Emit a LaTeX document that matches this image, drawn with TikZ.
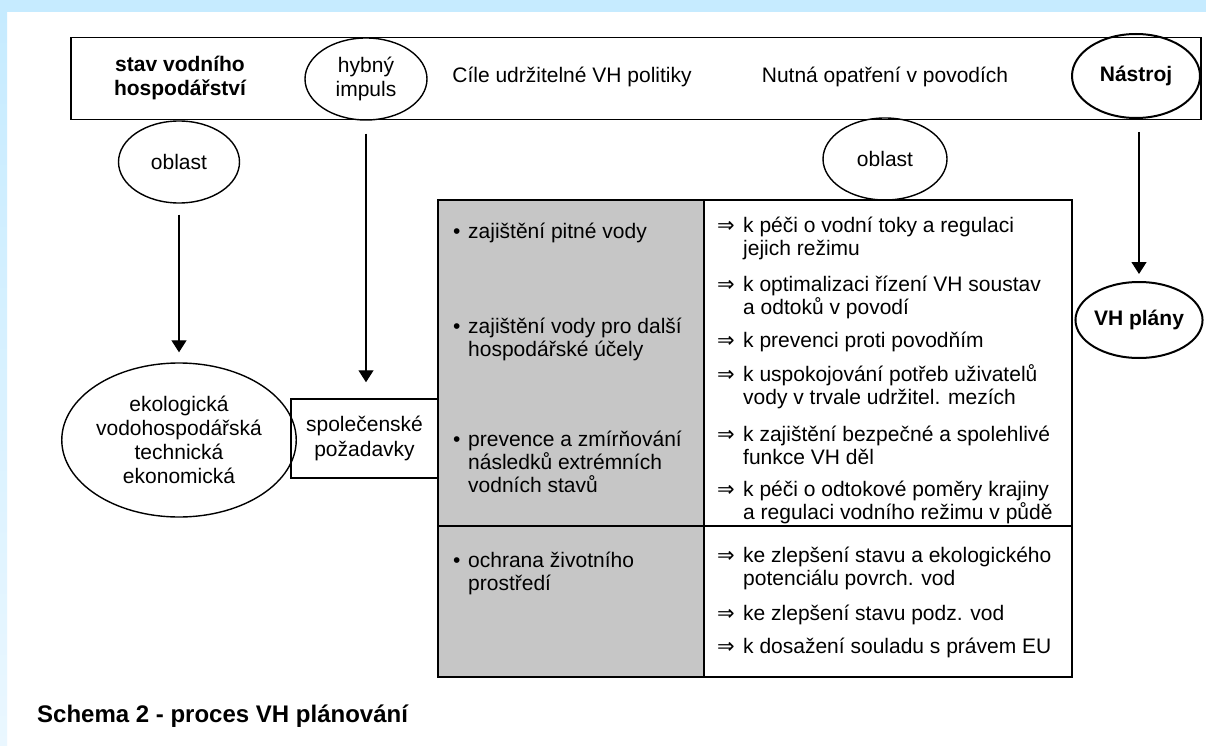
\documentclass[tikz,border=0pt]{standalone}
\usepackage{fontspec}
\setmainfont{Liberation Sans}
\newfontfamily\symfont{DejaVu Sans}
\usetikzlibrary{shapes.geometric,arrows.meta}

\definecolor{bandblue}{RGB}{198,235,255}
\definecolor{bandpale}{RGB}{234,247,255}
\definecolor{cellgray}{RGB}{198,198,198}

\newcommand{\basefont}{\fontsize{21}{23}\selectfont}
\newcommand{\arrowitem}{\makebox[26pt][l]{{\symfont ⇒}}}
\newcommand{\arrowpad}{\hspace*{26pt}}
\newcommand{\dotitem}{\makebox[15pt][l]{\textbullet}}
\newcommand{\dotpad}{\hspace*{15pt}}

\tikzset{
  oval/.style={draw, ellipse, line width=1.4pt, inner sep=0pt, align=center, font=\basefont},
  boldoval/.style={oval, line width=2pt, font=\basefont\bfseries},
  lbl/.style={inner sep=0pt, align=center, font=\basefont},
  cell/.style={inner sep=0pt, align=left, anchor=west, font=\basefont},
  flow/.style={line width=1.3pt, -{Triangle[length=12pt,width=15pt]}},
  frame/.style={line width=1.5pt},
}

\begin{document}
\begin{tikzpicture}[x=1pt,y=-1pt]
\useasboundingbox (0,0) rectangle (1206,746);

% page background with the light blue margin strips
\fill[white] (0,0) rectangle (1206,746);
\fill[bandblue] (0,0) rectangle (1206,12);
\shade[top color=bandblue, bottom color=bandpale] (0,12) rectangle (7,746);

% header bar
\node[draw, frame, minimum width=1130pt, minimum height=82pt, inner sep=0pt,
      anchor=north west] (bar) at (70,37) {};
\node[lbl, font=\fontsize{21}{24}\selectfont\bfseries] (stav) at (180,78) {stav vodního\\hospodářství};
\node[oval, minimum width=122pt, minimum height=82pt, font=\fontsize{21}{24}\selectfont]
  (hyb) at (366,79) {hybný\\impuls};
\node[lbl] (cile) at (572,77) {Cíle udržitelné VH politiky};
\node[lbl] (nutna) at (885,77) {Nutná opatření v povodích};
\node[boldoval, minimum width=128pt, minimum height=84pt] (nas) at (1136,76) {Nástroj};

% left branch
\node[oval, minimum width=121pt, minimum height=82pt] (obl1) at (179,162) {oblast};
\node[oval, minimum width=220pt, minimum height=154pt, font=\fontsize{21}{24}\selectfont]
  (eko) at (179,440) {ekologická\\vodohospodářská\\technická\\ekonomická};
\node[draw, frame, minimum width=147pt, minimum height=79pt, inner sep=0pt, align=center,
      font=\fontsize{21}{25}\selectfont] (spol) at (364.5,438.5) {společenské\\požadavky};

% right branch
\node[oval, minimum width=124pt, minimum height=82pt] (obl2) at (885,159) {oblast};
\node[boldoval, minimum width=112pt, minimum height=76pt] (vhp) at (1139,320) {VH plány};

% connectors
\draw[flow, shorten <=11pt, shorten >=10pt] (obl1) -- (eko);
\draw[flow, shorten <=13pt, shorten >=16pt] (hyb.south) -- (hyb.south |- spol.north);
\draw[flow, shorten <=13pt, shorten >=7pt] (vhp.north |- nas.south) -- (vhp.north);

% table of goals and measures
\coordinate (ttl) at (438,200);
\coordinate (tbr) at (1072,677);
\coordinate (tmid) at (704,200);
\fill[cellgray] (ttl) rectangle (tmid |- tbr);
\draw[frame] (ttl) rectangle (tbr);
\draw[frame] (tmid) -- (tmid |- tbr);
\draw[frame] (438,526) -- (1072,526);

% goals column
\node[cell] (g1) at (453,233) {\dotitem zajištění pitné vody};
\node[cell] (g2) at (453,339) {\dotitem zajištění vody pro další\\\dotpad hospodářské účely};
\node[cell] (g3) at (453,462) {\dotitem prevence a zmírňování\\\dotpad následků extrémních\\\dotpad vodních stavů};
\node[cell] (g4) at (453,573) {\dotitem ochrana životního\\\dotpad prostředí};

% measures column
\node[cell] (m1) at (717,238.5) {\arrowitem k péči o vodní toky a regulaci\\\arrowpad jejich režimu};
\node[cell] (m2) at (717,297.5) {\arrowitem k optimalizaci řízení VH soustav\\\arrowpad a odtoků v povodí};
\node[cell] (m3) at (717,342) {\arrowitem k prevenci proti povodňím};
\node[cell] (m4) at (717,386.5) {\arrowitem k uspokojování potřeb uživatelů\\\arrowpad vody v trvale udržitel. mezích};
\node[cell] (m5) at (717,445) {\arrowitem k zajištění bezpečné a spolehlivé\\\arrowpad funkce VH děl};
\node[cell] (m6) at (717,502) {\arrowitem k péči o odtokové poměry krajiny\\\arrowpad a regulaci vodního režimu v půdě};
\node[cell] (m7) at (717,568.5) {\arrowitem ke zlepšení stavu a ekologického\\\arrowpad potenciálu povrch. vod};
\node[cell] (m8) at (717,615) {\arrowitem ke zlepšení stavu podz. vod};
\node[cell] (m9) at (717,648) {\arrowitem k dosažení souladu s právem EU};

% caption
\node[anchor=west, inner sep=0pt, font=\fontsize{24}{28}\selectfont\bfseries] (cap) at (37,716)
  {Schema 2 - proces VH plánování};
\end{tikzpicture}
\end{document}
